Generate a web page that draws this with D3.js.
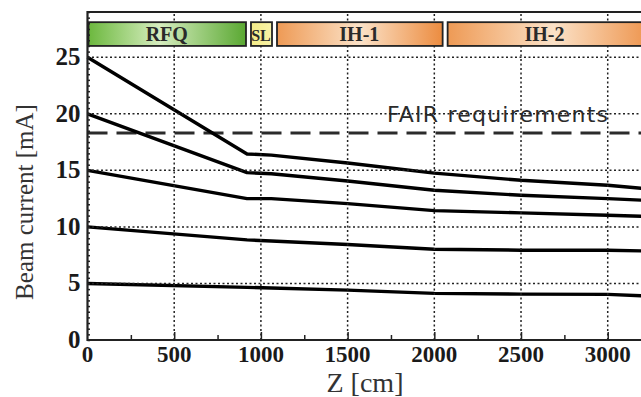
<!DOCTYPE html>
<html>
<head>
<meta charset="utf-8">
<script src="https://cdn.jsdelivr.net/npm/d3@7"></script>
<style>
	body { margin: 0; background: #fff; }
	svg { display: block; }
	.serif { font-family: 'Liberation Serif', 'Times New Roman', Times, serif; }
</style>
</head>
<body>
<div id="chart"></div>
<script>
// beam position along the linac [cm]
const zPositions = [0, 920, 1060, 1500, 2000, 2500, 3000, 3200];
// transmitted beam current for each injected current [mA]
const current25 = [25, 16.45, 16.35, 15.65, 14.75, 14.12, 13.68, 13.4];
const current20 = [20, 14.8, 14.7, 14.06, 13.24, 12.8, 12.5, 12.36];
const current15 = [15, 12.5, 12.5, 12.06, 11.44, 11.24, 11.03, 10.94];
const current10 = [10, 8.85, 8.75, 8.44, 8.03, 7.94, 7.94, 7.88];
const current5 = [5, 4.65, 4.6, 4.41, 4.12, 4.06, 4.03, 3.91];
const seriesList = [current25, current20, current15, current10, current5];

const fairRequirement = 18.3;
const fairLabel = 'FAIR requirements';

// accelerator sections along z
const moduleNames = ['RFQ', 'SL', 'IH-1', 'IH-2'];
const moduleStart = [0, 937, 1087, 2071];
const moduleEnd = [914, 1064, 2048, 3300];

const xTicks = [0, 500, 1000, 1500, 2000, 2500, 3000];
const yTicks = [0, 5, 10, 15, 20, 25];

const WIDTH = 641, HEIGHT = 397;
const x = d3.scaleLinear().domain([0, 3200]).range([87.5, 642.4]);
const y = d3.scaleLinear().domain([0, 29]).range([340, 12]);

const svg = d3.select('#chart').append('svg')
	.attr('width', WIDTH)
	.attr('height', HEIGHT);

const defs = svg.append('defs');
function addGradient(id, stops) {
	const g = defs.append('linearGradient').attr('id', id)
		.attr('x1', '0%').attr('x2', '100%').attr('y1', '0%').attr('y2', '0%');
	stops.forEach(s => g.append('stop').attr('offset', s[0]).attr('stop-color', s[1]));
}
addGradient('grad-rfq', [['0%', '#6cb83e'], ['45%', '#d6edbf'], ['100%', '#5aa832']]);
addGradient('grad-sl', [['0%', '#f4ec86'], ['100%', '#f8f2a8']]);
addGradient('grad-ih', [['0%', '#ee9a55'], ['50%', '#fbe2c8'], ['100%', '#ec8c40']]);
const moduleFill = ['url(#grad-rfq)', 'url(#grad-sl)', 'url(#grad-ih)', 'url(#grad-ih)'];

const [x0, x1] = x.range();
const [yBottom, yTop] = y.range();

// FAIR requirement
svg.append('line')
	.attr('x1', x0).attr('x2', x1)
	.attr('y1', y(fairRequirement)).attr('y2', y(fairRequirement))
	.attr('stroke', '#2b2b2b').attr('stroke-width', 3)
	.attr('stroke-dasharray', '20,9');
svg.append('text')
	.attr('x', 387).attr('y', y(fairRequirement) - 11)
	.attr('font-family', 'DejaVu Sans, sans-serif')
	.attr('font-size', 22)
	.attr('textLength', 221)
	.attr('fill', '#2b2b2b')
	.text(fairLabel);

// current curves
const line = d3.line().x((d, i) => x(zPositions[i])).y(d => y(d));
svg.append('g').selectAll('path').data(seriesList).enter().append('path')
	.attr('d', line)
	.attr('fill', 'none')
	.attr('stroke', '#000')
	.attr('stroke-width', 3.4)
	.attr('stroke-linejoin', 'round');

// dotted grid
const gridG = svg.append('g');
gridG.selectAll('line.gx').data(xTicks.slice(1)).join('line')
	.attr('class', 'gx')
	.attr('x1', d => x(d)).attr('x2', d => x(d))
	.attr('y1', yBottom).attr('y2', yTop);
gridG.selectAll('line.gy').data(yTicks.slice(1)).join('line')
	.attr('class', 'gy')
	.attr('x1', x0).attr('x2', x1)
	.attr('y1', d => y(d)).attr('y2', d => y(d));
gridG.selectAll('line')
	.attr('stroke', '#222')
	.attr('stroke-width', 1.5)
	.attr('stroke-dasharray', '2,2.5');

// section bar at the top
const STRIP_TOP = 28.1, STRIP_BOTTOM = 26.0;
const modules = svg.append('g').selectAll('g')
	.data(moduleNames.map((name, i) => ({ name, start: moduleStart[i], end: moduleEnd[i], fill: moduleFill[i] })))
	.enter().append('g');
modules.append('rect')
	.attr('x', d => x(d.start) + 1)
	.attr('y', y(STRIP_TOP))
	.attr('width', d => x(d.end) - x(d.start) - 1)
	.attr('height', y(STRIP_BOTTOM) - y(STRIP_TOP))
	.attr('fill', d => d.fill)
	.attr('stroke', '#222')
	.attr('stroke-width', 1.8);
modules.append('text')
	.attr('class', 'serif')
	.attr('x', d => x(d.name === 'IH-2' ? (d.start + 3200) / 2 : (d.start + d.end) / 2))
	.attr('y', y(STRIP_BOTTOM) - 5)
	.attr('text-anchor', 'middle')
	.attr('font-weight', 'bold')
	.attr('font-size', d => d.name === 'SL' ? 16 : 20)
	.attr('fill', '#2a2a2a')
	.text(d => d.name);

// axes
const axisColor = '#222';
const yAxis = svg.append('g').attr('transform', `translate(${x0},0)`)
	.call(d3.axisRight(y).tickValues(d3.range(0, 29.01, 0.5)).tickSize(2.5).tickFormat(''));
const xAxis = svg.append('g').attr('transform', `translate(0,${yBottom})`)
	.call(d3.axisTop(x).tickValues(d3.range(250, 3200, 250)).tickSize(0).tickFormat(''));
xAxis.selectAll('.tick line').attr('y2', d => d % 500 === 0 ? -8 : -5);
[yAxis, xAxis].forEach(a => {
	a.select('.domain').remove();
	a.selectAll('.tick line').attr('stroke', axisColor).attr('stroke-width', 1.5);
});

// frame
svg.append('path')
	.attr('d', `M${x1},${yTop}H${x0}V${yBottom}H${x1}`)
	.attr('fill', 'none').attr('stroke', axisColor).attr('stroke-width', 2.2);

// tick labels
svg.append('g').selectAll('text').data(xTicks).enter().append('text')
	.attr('class', 'serif')
	.attr('x', d => x(d)).attr('y', yBottom + 22)
	.attr('text-anchor', 'middle')
	.attr('font-weight', 'bold').attr('font-size', 23)
	.attr('fill', '#1a1a1a')
	.text(d => d);
svg.append('g').selectAll('text').data(yTicks).enter().append('text')
	.attr('class', 'serif')
	.attr('x', x0 - 7).attr('y', d => y(d) + 8)
	.attr('text-anchor', 'end')
	.attr('font-weight', 'bold').attr('font-size', 25)
	.attr('fill', '#1a1a1a')
	.text(d => d);

// axis titles
svg.append('text')
	.attr('class', 'serif')
	.attr('x', 365).attr('y', 392)
	.attr('text-anchor', 'middle')
	.attr('font-size', 28)
	.attr('fill', '#333')
	.text('Z [cm]');
svg.append('text')
	.attr('class', 'serif')
	.attr('transform', 'translate(33,202) rotate(-90)')
	.attr('text-anchor', 'middle')
	.attr('font-size', 25)
	.attr('fill', '#333')
	.text('Beam current [mA]');
</script>
</body>
</html>
